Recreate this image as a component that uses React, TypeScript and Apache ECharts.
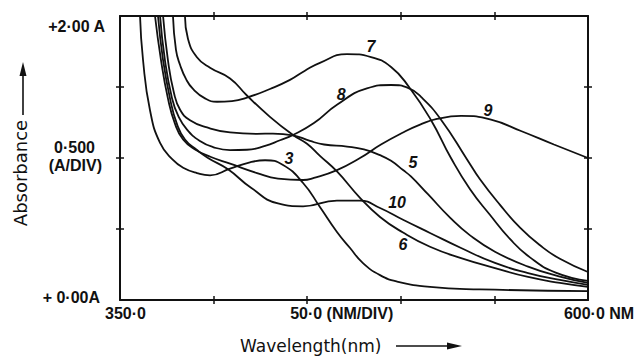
import React, { useEffect, useRef } from "react";
import * as echarts from "echarts";

const X_MIN = 350;
const X_MAX = 600;
const X_STEP = 50;
const Y_MIN = 0;
const Y_MAX = 2;
const Y_STEP = 0.5;

const xLabelValues = [350, 450, 600];
const xLabelTexts = ["350·0", "50·0 (NM/DIV)", "600·0 NM"];
const yLabelValues = [0, 1, 2];
const yLabelTexts = ["+ 0·00A", "0·500\n(A/DIV)", "+2·00 A"];
const xTickValues = [400, 450, 500, 550];
const yTickValues = [0.5, 1, 1.5];

// [wavelength nm, absorbance A]
const curve3 = [
  [360.7, 2.0], [362.3, 1.69], [366.0, 1.338], [371.4, 1.106], [378.3, 0.986], [384.0, 0.93],
  [391.1, 0.894], [398.1, 0.878], [408.8, 0.925], [419.4, 0.97], [427.5, 0.984], [437.1, 0.951],
  [447.8, 0.824], [456.8, 0.655], [465.9, 0.479], [472.9, 0.366], [479.8, 0.26], [488.9, 0.175],
  [498.0, 0.13], [515.6, 0.092], [542.3, 0.075], [600, 0.063],
];
const curve5 = [
  [373.0, 2.0], [375.6, 1.69], [378.8, 1.46], [382.1, 1.34], [387.4, 1.265], [396.5, 1.215],
  [408.8, 1.18], [423.2, 1.17], [431.7, 1.172], [442.4, 1.16], [451.5, 1.12], [459.0, 1.095],
  [471.3, 1.08], [480.3, 1.06], [488.9, 1.02], [494.8, 0.98], [501.2, 0.915], [505.4, 0.87],
  [514.5, 0.745], [526.3, 0.58], [537.0, 0.455], [550.3, 0.34], [568.0, 0.235], [585.0, 0.165],
  [600, 0.12],
];
const curve6 = [
  [384.7, 2.0], [386.3, 1.84], [391.1, 1.71], [398.1, 1.635], [408.8, 1.56], [417.8, 1.44],
  [430.1, 1.29], [442.4, 1.162], [449.9, 1.1], [456.8, 1.015], [465.9, 0.905], [478.2, 0.72],
  [488.9, 0.585], [501.2, 0.475], [515.6, 0.375], [532.2, 0.295], [550.3, 0.225], [568.0, 0.162],
  [585.0, 0.12], [600, 0.092],
];
const curve7 = [
  [378.3, 2.0], [379.9, 1.761], [382.1, 1.655], [385.3, 1.555], [389.0, 1.486], [395.4, 1.42],
  [401.8, 1.396], [409.8, 1.401], [417.8, 1.425], [430.1, 1.486], [440.8, 1.55], [448.8, 1.615],
  [456.8, 1.67], [471.3, 1.732], [484.1, 1.711], [494.8, 1.641], [504.4, 1.5], [516.1, 1.268],
  [526.8, 1.0], [537.0, 0.78], [547.6, 0.6], [558.3, 0.43], [569.0, 0.3], [582.4, 0.195],
  [600, 0.134],
];
const curve8 = [
  [371.4, 2.0], [374.0, 1.69], [377.8, 1.42], [381.0, 1.3], [385.8, 1.2], [392.7, 1.12],
  [399.7, 1.077], [408.8, 1.056], [417.8, 1.058], [427.5, 1.085], [435.5, 1.125], [442.4, 1.162],
  [453.6, 1.246], [465.9, 1.375], [481.9, 1.49], [494.8, 1.514], [504.4, 1.49], [510.8, 1.43],
  [521.5, 1.27], [535.4, 0.99], [542.3, 0.85], [553.0, 0.67], [563.7, 0.51], [574.4, 0.385],
  [585.0, 0.29], [600, 0.197],
];
const curve9 = [
  [368.7, 2.0], [371.9, 1.69], [375.6, 1.42], [379.4, 1.24], [383.7, 1.13], [390.1, 1.06],
  [398.6, 1.007], [408.8, 0.96], [423.2, 0.894], [434.4, 0.855], [447.8, 0.845], [453.6, 0.86],
  [465.9, 0.915], [478.2, 1.0], [489.4, 1.095], [501.2, 1.18], [510.3, 1.235], [519.3, 1.275],
  [532.2, 1.296], [548.2, 1.27], [564.2, 1.19], [581.8, 1.095], [600, 1.0],
];
const curve10 = [
  [370.3, 2.0], [373.0, 1.69], [376.7, 1.42], [380.4, 1.24], [384.7, 1.13], [391.1, 1.056],
  [397.0, 1.0], [407.7, 0.92], [420.0, 0.79], [434.4, 0.68], [447.8, 0.66], [465.9, 0.7],
  [478.2, 0.7], [488.9, 0.648], [501.2, 0.565], [515.6, 0.472], [532.2, 0.366], [550.3, 0.261],
  [568.0, 0.19], [585.0, 0.141], [600, 0.106],
];

const seriesNames = ["3", "5", "6", "7", "8", "9", "10"];
const seriesData = [curve3, curve5, curve6, curve7, curve8, curve9, curve10];

const curveLabelNames = ["7", "8", "9", "3", "5", "10", "6"];
const curveLabelX = [484.1, 468.1, 546.6, 440.3, 506.5, 498.0, 501.2];
const curveLabelY = [1.782, 1.444, 1.338, 0.993, 0.965, 0.69, 0.394];

const INK = "#111";
const TICK_FONT = "Liberation Sans";

const xPad = [11, 69, 22];
const yPads: number[][][] = [
  [[0, 5, 5, 0]],
  [[0, 10, 0, 0], [0, 3, 8, 0]],
  [[20, 0, 0, 0]],
];

function baseText(extra: any = {}) {
  return {
    fontFamily: TICK_FONT,
    fontSize: 16,
    fontWeight: "bold",
    color: INK,
    ...extra,
  };
}

const xRich: any = {};
xLabelTexts.forEach((_, i) => {
  xRich["x" + i] = baseText({ padding: [0, 0, 0, xPad[i]] });
});
const yRich: any = {};
yLabelTexts.forEach((t, i) => {
  t.split("\n").forEach((_, j) => {
    yRich["y" + i + "_" + j] = baseText({ padding: yPads[i][j], lineHeight: 22 });
  });
});

function makeX(position: string, inside: boolean, showLine: boolean, labels: boolean) {
  return {
    type: "value",
    position,
    min: X_MIN,
    max: X_MAX,
    interval: X_STEP,
    axisLine: { show: showLine, onZero: false, lineStyle: { color: INK, width: 2 } },
    axisTick: {
      show: true,
      inside,
      length: 4,
      customValues: xTickValues,
      lineStyle: { color: INK, width: 1.5 },
    },
    axisLabel: labels
      ? {
          show: true,
          customValues: xLabelValues,
          margin: 5,
          formatter: (v: number) => {
            const i = xLabelValues.indexOf(v);
            return i < 0 ? "" : "{x" + i + "|" + xLabelTexts[i] + "}";
          },
          rich: xRich,
        }
      : { show: false },
    splitLine: { show: false },
  };
}

function makeY(position: string, inside: boolean, showLine: boolean, labels: boolean) {
  return {
    type: "value",
    position,
    min: Y_MIN,
    max: Y_MAX,
    interval: Y_STEP,
    axisLine: { show: showLine, onZero: false, lineStyle: { color: INK, width: 2 } },
    axisTick: {
      show: true,
      inside,
      length: 4,
      customValues: yTickValues,
      lineStyle: { color: INK, width: 1.5 },
    },
    axisLabel: labels
      ? {
          show: true,
          customValues: yLabelValues,
          margin: 15,
          align: "right",
          formatter: (v: number) => {
            const i = yLabelValues.indexOf(v);
            if (i < 0) return "";
            return yLabelTexts[i]
              .split("\n")
              .map((l, j) => "{y" + i + "_" + j + "|" + l + "}")
              .join("\n");
          },
          rich: yRich,
        }
      : { show: false },
    splitLine: { show: false },
  };
}

export default function App() {
  const ref = useRef<HTMLDivElement>(null);
  useEffect(() => {
    if (!ref.current) return;
    const chart = echarts.init(ref.current, null, { renderer: "svg" });
    const option: any = {
      animation: false,
      backgroundColor: "#fff",
      grid: { left: 120, top: 16, width: 468, height: 284, outerBoundsMode: "none" },
      xAxis: [
        makeX("bottom", false, true, true),
        makeX("bottom", true, false, false),
        makeX("top", false, true, false),
        makeX("top", true, false, false),
      ],
      yAxis: [
        makeY("left", false, true, true),
        makeY("left", true, false, false),
        makeY("right", false, true, false),
        makeY("right", true, false, false),
      ],
      series: [
        ...seriesData.map((d, i) => ({
          type: "line",
          name: seriesNames[i],
          data: d,
          xAxisIndex: 0,
          yAxisIndex: 0,
          smooth: 0.5,
          showSymbol: false,
          symbol: "none",
          silent: true,
          clip: true,
          lineStyle: { color: INK, width: 1.8 },
        })),
        {
          type: "scatter",
          xAxisIndex: 0,
          yAxisIndex: 0,
          silent: true,
          symbolSize: 0,
          itemStyle: { color: INK },
          data: curveLabelNames.map((n, i) => [curveLabelX[i], curveLabelY[i], n]),
          label: {
            show: true,
            position: "inside",
            formatter: (p: any) => p.value[2],
            color: INK,
            opacity: 1,
            fontFamily: TICK_FONT,
            fontSize: 16,
            fontStyle: "italic",
            fontWeight: "bold",
          },
        },
      ],
      graphic: [
        {
          type: "text",
          x: 240,
          y: 346,
          style: {
            text: "Wavelength(nm)",
            fontFamily: "DejaVu Sans",
            fontSize: 17,
            fill: INK,
            align: "left",
            verticalAlign: "middle",
          },
        },
        {
          type: "line",
          shape: { x1: 396, y1: 346, x2: 452, y2: 346 },
          style: { stroke: INK, lineWidth: 1.6 },
        },
        {
          type: "polygon",
          shape: { points: [[462, 346], [447, 342.5], [447, 349.5]] },
          style: { fill: INK },
        },
        {
          type: "text",
          x: 20,
          y: 173,
          rotation: Math.PI / 2,
          style: {
            text: "Absorbance",
            fontFamily: "DejaVu Sans",
            fontSize: 18,
            fill: INK,
            align: "center",
            verticalAlign: "middle",
          },
        },
        {
          type: "line",
          shape: { x1: 23, y1: 115, x2: 23, y2: 72 },
          style: { stroke: INK, lineWidth: 1.6 },
        },
        {
          type: "polygon",
          shape: { points: [[23, 62], [19.5, 76], [26.5, 76]] },
          style: { fill: INK },
        },
      ],
    };
    chart.setOption(option);
    return () => chart.dispose();
  }, []);
  return (
    <div
      ref={ref}
      style={{ position: "fixed", left: 0, top: 0, width: 634, height: 356, background: "#fff" }}
    />
  );
}
